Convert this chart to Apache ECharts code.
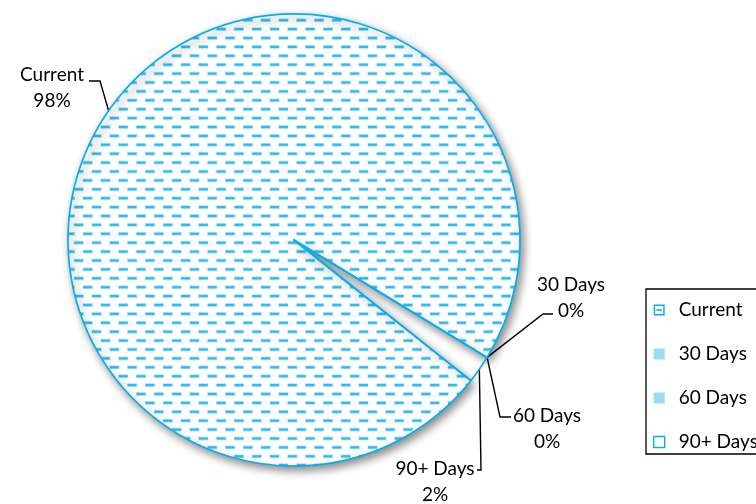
<!DOCTYPE html>
<html>
<head>
<meta charset="utf-8">
<script src="https://cdn.jsdelivr.net/npm/echarts@6/dist/echarts.min.js"></script>
<style>
  html, body { margin: 0; padding: 0; background: #ffffff; }
  #chart { width: 756px; height: 504px; }
</style>
</head>
<body>
<div id="chart"></div>
<script>
// Aging buckets and their share of the balance (percent)
const categories = ['Current', '30 Days', '60 Days', '90+ Days'];
const shares = [98, 0, 0, 2];

const BLUE = '#00b0f0';
const FONT = 'Lato, "Open Sans", sans-serif';

// Horizontal dash hatch: rows of short dashes, alternate rows shifted half a period
function dashHatch() {
  const step = 8.9;
  const size = 89;
  const c = document.createElement('canvas');
  c.width = size; c.height = size;
  const g = c.getContext('2d');
  g.fillStyle = '#ffffff';
  g.fillRect(0, 0, size, size);
  for (let r = 0; r < 10; r++) {
    const y = r * step + 2.4;
    const off = (r % 2) ? step : 0;
    for (let k = -1; k < 6; k++) {
      const x = off + k * 2 * step + 12;
      g.fillStyle = '#b3e5fa';
      g.fillRect(x - 0.6, y - 1.9, step + 1.2, 3.8);
      g.fillStyle = '#33bbf0';
      g.fillRect(x, y - 1.1, step, 2.2);
    }
  }
  return c;
}

// Fine checker used for the 30 / 60 day buckets
function checker() {
  const c = document.createElement('canvas');
  c.width = 2; c.height = 2;
  const g = c.getContext('2d');
  g.fillStyle = '#d2f0fc';
  g.fillRect(0, 0, 2, 2);
  g.fillStyle = '#5ec9f3';
  g.fillRect(0, 0, 1, 1);
  g.fillRect(1, 1, 1, 1);
  return c;
}

const hatchFill = { image: dashHatch(), repeat: 'repeat' };
const checkFill = { image: checker(), repeat: 'repeat' };

const sliceStyles = [
  { color: hatchFill, borderColor: BLUE, borderWidth: 1.7,
    shadowBlur: 8, shadowColor: 'rgba(0,0,0,0.45)', shadowOffsetX: 3, shadowOffsetY: 4 },
  { color: checkFill, borderWidth: 0 },
  { color: checkFill, borderWidth: 0 },
  { color: 'rgba(255,255,255,0)', borderColor: BLUE, borderWidth: 1.7 }
];

// Label placement: text block centre, leader bend point, leader end point
const labelPlacement = [
  { at: [52, 88],  bend: [100, 81],  end: [89, 81] },
  { at: [571, 298], bend: [543, 314], end: [553, 314] },
  { at: [547, 429], bend: [500, 417], end: [511, 417] },
  { at: [435, 482], bend: [481, 470], end: [477, 470] }
];

const legendIcons = [
  { icon: 'path://M0,0H12V12H0Z M1.6,1.6V10.4H10.4V1.6Z M3,5.3H9V6.9H3Z',
    itemStyle: { color: BLUE, borderWidth: 0, shadowBlur: 0, shadowOffsetX: 0, shadowOffsetY: 0 } },
  { icon: 'rect', itemStyle: { color: checkFill, borderWidth: 0, shadowBlur: 0 } },
  { icon: 'rect', itemStyle: { color: checkFill, borderWidth: 0, shadowBlur: 0 } },
  { icon: 'rect', itemStyle: { color: '#ffffff', borderColor: BLUE, borderWidth: 1.4, shadowBlur: 0 } }
];

const chart = echarts.init(document.getElementById('chart'), null, { renderer: 'canvas' });

chart.setOption({
  backgroundColor: '#ffffff',
  animation: false,
  legend: {
    orient: 'vertical',
    left: 646,
    top: 289,
    padding: [11, 30, 2, 7],
    itemGap: 24,
    itemWidth: 11,
    itemHeight: 11,
    borderColor: '#000000',
    borderWidth: 1.3,
    selectedMode: false,
    textStyle: { fontFamily: FONT, fontSize: 19, color: '#000000', lineHeight: 20, padding: [0, 0, 0, 9] },
    data: categories.map((name, i) => Object.assign({ name: name }, legendIcons[i]))
  },
  series: [{
    type: 'pie',
    center: [294, 240],
    radius: 226,
    startAngle: -38.5,
    clockwise: true,
    avoidLabelOverlap: false,
    emphasis: { disabled: true },
    data: categories.map((name, i) => ({ name: name, value: shares[i], itemStyle: sliceStyles[i] })),
    label: {
      show: true,
      formatter: '{b}\n{d}%',
      color: '#000000',
      fontFamily: FONT,
      fontSize: 19,
      lineHeight: 26,
      align: 'center'
    },
    labelLine: {
      show: true,
      length: 12,
      length2: 10,
      lineStyle: { color: '#000000', width: 1.4 }
    },
    labelLayout: function (p) {
      const place = labelPlacement[p.dataIndex];
      const anchor = p.labelLinePoints ? p.labelLinePoints[0] : place.bend;
      return {
        x: place.at[0],
        y: place.at[1],
        align: 'center',
        verticalAlign: 'middle',
        labelLinePoints: [anchor, place.bend, place.end]
      };
    }
  }]
});
</script>
</body>
</html>
